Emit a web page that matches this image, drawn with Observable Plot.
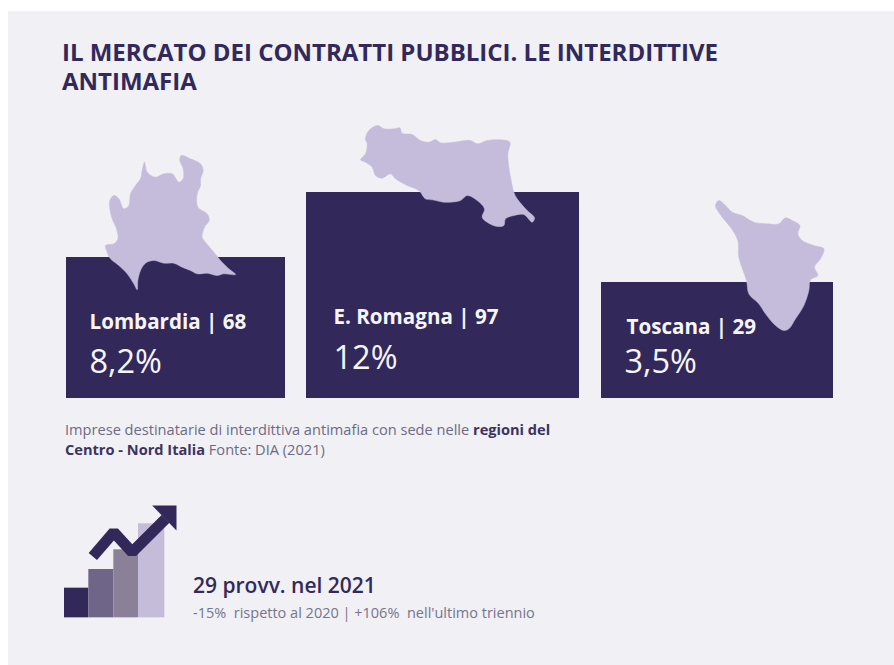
<!DOCTYPE html>
<html lang="it">
<head>
<meta charset="utf-8">
<script src="https://cdn.jsdelivr.net/npm/d3@7"></script>
<script src="https://cdn.jsdelivr.net/npm/@observablehq/plot@0.6"></script>
<style>
  html, body { margin: 0; padding: 0; background: #fff; overflow: hidden; }
  #page { position: relative; width: 894px; height: 665px; overflow: hidden; font-family: "Open Sans", sans-serif; }
  #panel { position: absolute; left: 8px; top: 11px; right: 0; bottom: 0; background: #f0f0f5; }
  #page svg { position: absolute; left: 0; top: 0; background: transparent; }
  .t { position: absolute; white-space: pre; margin: 0; }
  #title { left: 62px; top: 37px; font-size: 24px; line-height: 29px; font-weight: 700; color: #32295a; }
  #note { left: 65px; top: 419px; font-size: 14.6px; line-height: 20px; color: #6d6b82; }
  #note div { display: flex; height: 20px; }
  #note span { white-space: pre; }
  #note .strong { color: #3c3460; font-weight: 700; }
  #trend { left: 193px; top: 572px; font-size: 21px; line-height: 26px; font-weight: 600; color: #33295a; }
  #trendNote { left: 193px; top: 604px; font-size: 14.5px; line-height: 18px; color: #77758c; }
</style>
</head>
<body>
<div id="page">
  <div id="panel"></div>
</div>
<script>
// Regional figures
const regions = ["Lombardia", "E. Romagna", "Toscana"];
const counts = [68, 97, 29];
const shares = ["8,2%", "12%", "3,5%"];

// Slot edges of the three boxes, and where each caption sits from the box's lower-left corner
const slotEdges = [0, 1, 2, 3, 4, 5];
const slotPixels = [66, 285, 306, 579, 601, 833];
const countTicks = [0, 29, 68, 97];
const countPixels = [398, 282, 257, 192];
const nameInset = [23, 27, 25];
const shareInset = [23, 27, 23];
const nameLift = [70, 75, 65];
const shareLift = [26, 30, 26];

// Traced region outlines, drawn at 1/3 scale from their origins
const lombardia = [[282,155],[290,185],[315,200],[340,190],[365,190],[385,215],[398,205],[398,175],[388,150],[392,135],[420,145],[450,160],[458,180],[450,205],[450,225],[440,250],[442,290],[470,310],[476,330],[462,350],[455,380],[465,395],[490,425],[510,450],[535,475],[555,492],[520,490],[500,495],[470,488],[440,490],[420,480],[395,470],[370,458],[340,458],[310,450],[285,458],[270,480],[262,510],[260,538],[250,520],[230,490],[205,465],[180,445],[170,425],[165,405],[190,400],[202,385],[198,355],[185,325],[178,295],[178,270],[190,255],[205,265],[220,295],[235,285],[240,250],[255,225],[270,205],[275,180]];
const emiliaRomagna = [[232,45],[250,55],[280,55],[298,52],[305,68],[335,72],[360,90],[385,95],[405,87],[420,97],[460,95],[510,90],[530,100],[560,90],[600,88],[628,95],[622,130],[625,170],[632,210],[640,245],[650,265],[680,300],[702,322],[695,335],[670,312],[640,315],[615,325],[610,345],[590,348],[560,335],[545,320],[552,295],[530,270],[500,255],[480,270],[450,275],[430,275],[395,268],[375,265],[355,240],[320,225],[285,205],[270,190],[245,203],[225,195],[215,170],[195,155],[180,148],[195,130],[200,100],[195,85],[205,60]];
const toscana = [[385,30],[405,45],[425,65],[455,75],[490,95],[530,100],[565,100],[585,82],[605,90],[628,105],[622,130],[635,150],[670,165],[700,175],[690,205],[672,230],[682,255],[660,268],[655,300],[640,345],[615,385],[595,415],[580,420],[555,405],[525,370],[505,340],[475,310],[468,270],[445,200],[442,150],[420,110],[395,80],[375,45]];
const outlines = [
  {shape: lombardia, origin: [50, 110]},
  {shape: emiliaRomagna, origin: [300, 110]},
  {shape: toscana, origin: [590, 190]}
];

// Rising-steps icon
const stepOrigin = [50, 490];
const stepEdges = [42, 115, 190, 264, 343];
const stepTops = [293, 237, 178, 100];
const stepBase = 382;
const stepColors = ["#33285a", "#6f6589", "#8a8199", "#c5bcd9"];
const arrowShaft = [[127,198],[190,125],[245,185],[345,85]];
const arrowHead = [[305,45],[378,45],[378,120]];

const ink = "#33285a";
const outlineFill = "#c5bcdb";
const labelFill = "#f6f6fa";
const W = 894, H = 665;

const rows = regions.map((region, i) => ({region, count: counts[i], share: shares[i], slot: i * 2}));

// Boxes and their captions: the box top comes from the count through the y scale
const boxes = Plot.plot({
  width: W, height: H, margin: 0,
  style: {background: "transparent", fontFamily: '"Open Sans", sans-serif'},
  x: {transform: d3.scaleLinear(slotEdges, slotPixels), domain: [0, W], range: [0, W], axis: null},
  y: {transform: d3.scaleLinear(countTicks, countPixels), domain: [0, H], range: [0, H], axis: null},
  marks: [
    Plot.rect(rows, {x1: "slot", x2: d => d.slot + 1, y1: () => 0, y2: "count", fill: ink}),
    ...rows.flatMap((d, i) => [
      Plot.text([d], {x: "slot", y: () => 0, dx: nameInset[i], dy: -nameLift[i], text: r => `${r.region} | ${r.count}`,
        textAnchor: "start", lineAnchor: "bottom", fontSize: 20.6, fontWeight: 700, fill: labelFill}),
      Plot.text([d], {x: "slot", y: () => 0, dx: shareInset[i], dy: -shareLift[i], text: "share",
        textAnchor: "start", lineAnchor: "bottom", fontSize: 32.5, fill: labelFill})
    ])
  ]
});

const place = (origin) => ([x, y]) => [x / 3 + origin[0], y / 3 + origin[1]];

// Region shapes and the icon, on page-unit scales
const overlay = Plot.plot({
  width: W, height: H, margin: 0,
  style: {background: "transparent"},
  x: {domain: [0, W], range: [0, W], axis: null},
  y: {domain: [0, H], range: [0, H], axis: null},
  marks: [
    ...outlines.map(o => Plot.line(o.shape.map(place(o.origin)), {
      x: "0", y: "1", fill: outlineFill, stroke: outlineFill, strokeWidth: 0.5, curve: "catmull-rom-closed"
    })),
    Plot.rect(stepTops.map((top, i) => ({top, i})), {
      x1: d => place(stepOrigin)([stepEdges[d.i], 0])[0],
      x2: d => place(stepOrigin)([stepEdges[d.i + 1], 0])[0],
      y1: d => place(stepOrigin)([0, d.top])[1],
      y2: () => place(stepOrigin)([0, stepBase])[1],
      fill: d => stepColors[d.i]
    }),
    Plot.line(arrowShaft.map(place(stepOrigin)), {x: "0", y: "1", stroke: ink, strokeWidth: 11, strokeLinecap: "butt", strokeLinejoin: "miter", curve: "linear"}),
    Plot.line(arrowHead.map(place(stepOrigin)), {x: "0", y: "1", fill: ink, stroke: "none", curve: "linear-closed"})
  ]
});

const page = document.getElementById("page");
page.append(boxes, overlay);

// Headline, source note and trend text
function addText(id, html) {
  const el = document.createElement("div");
  el.id = id;
  el.className = "t";
  el.innerHTML = html;
  page.append(el);
}
addText("title", "IL MERCATO DEI CONTRATTI PUBBLICI. LE INTERDITTIVE\nANTIMAFIA");
addText("note", '<div><span>Imprese destinatarie di interdittiva antimafia con sede nelle </span><span class="strong">regioni del</span></div>' +
  '<div><span class="strong">Centro - Nord Italia</span><span> Fonte: DIA (2021)</span></div>');
addText("trend", "29 provv. nel 2021");
addText("trendNote", "-15%  rispetto al 2020 | +106%  nell'ultimo triennio");
</script>
</body>
</html>
